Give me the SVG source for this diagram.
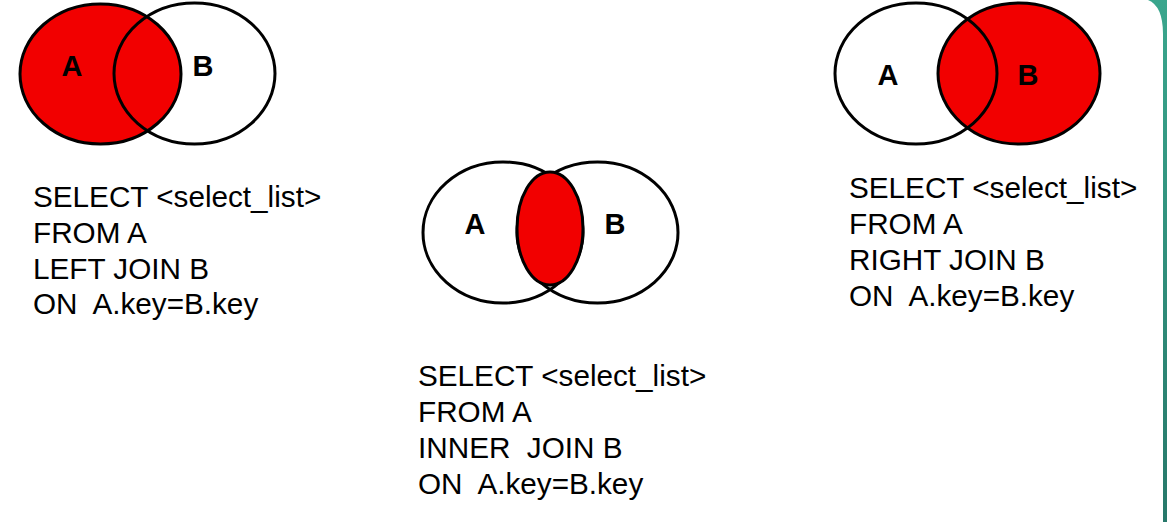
<svg xmlns="http://www.w3.org/2000/svg" width="1167" height="522" viewBox="0 0 1167 522">
<style>
.ring{fill:none;stroke:#000;stroke-width:3}
.red{fill:#f20000}
.lens{fill:#f20000;stroke:#000;stroke-width:3}
.lbl{font-family:"Liberation Sans",Arial,sans-serif;font-weight:bold;font-size:29px;fill:#000;text-anchor:middle}
.sql{font-family:"Liberation Sans",Arial,sans-serif;font-size:29.7px;fill:#000;white-space:pre}
</style>
<defs>
<linearGradient id="teal" x1="0" y1="0" x2="0" y2="1">
<stop offset="0" stop-color="#3aa68d"/>
<stop offset="1" stop-color="#27786a"/>
</linearGradient>
</defs>
<rect x="0" y="0" width="1167" height="522" fill="#fff"/>
<g id="frame">
<path d="M1148 0 H1167 V522 H1163 V34 Q1163 6 1148 0 Z" fill="url(#teal)"/>
</g>
<g id="left-join">
<ellipse class="red" cx="100.5" cy="74" rx="80.5" ry="70"/>
<ellipse class="ring" cx="194.5" cy="73.5" rx="80.5" ry="70.5"/>
<ellipse class="ring" cx="100.5" cy="74" rx="80.5" ry="70"/>
<text class="lbl" x="72" y="76">A</text>
<text class="lbl" x="203" y="76">B</text>
<text class="sql" x="33" y="207" xml:space="preserve">SELECT &lt;select_list&gt;</text>
<text class="sql" x="33" y="243" xml:space="preserve">FROM A</text>
<text class="sql" x="33" y="279" xml:space="preserve">LEFT JOIN B</text>
<text class="sql" x="33" y="314" xml:space="preserve">ON  A.key=B.key</text>
</g>
<g id="inner-join">
<ellipse class="ring" cx="503" cy="232.5" rx="80" ry="70.5"/>
<ellipse class="ring" cx="597.5" cy="232.5" rx="80.5" ry="70.5"/>
<ellipse class="lens" cx="550" cy="228.5" rx="33" ry="56.5"/>
<text class="lbl" x="475" y="234">A</text>
<text class="lbl" x="615" y="234">B</text>
<text class="sql" x="418" y="386" xml:space="preserve">SELECT &lt;select_list&gt;</text>
<text class="sql" x="418" y="422" xml:space="preserve">FROM A</text>
<text class="sql" x="418" y="458" xml:space="preserve">INNER  JOIN B</text>
<text class="sql" x="418" y="494" xml:space="preserve">ON  A.key=B.key</text>
</g>
<g id="right-join">
<ellipse class="red" cx="1019" cy="73.5" rx="81" ry="70.5"/>
<ellipse class="ring" cx="916" cy="73.5" rx="81" ry="70.5"/>
<ellipse class="ring" cx="1019" cy="73.5" rx="81" ry="70.5"/>
<text class="lbl" x="888" y="85">A</text>
<text class="lbl" x="1028" y="85">B</text>
<text class="sql" x="849" y="198" xml:space="preserve">SELECT &lt;select_list&gt;</text>
<text class="sql" x="849" y="234" xml:space="preserve">FROM A</text>
<text class="sql" x="849" y="270" xml:space="preserve">RIGHT JOIN B</text>
<text class="sql" x="849" y="306" xml:space="preserve">ON  A.key=B.key</text>
</g>
<g id="connectors"/>
</svg>
